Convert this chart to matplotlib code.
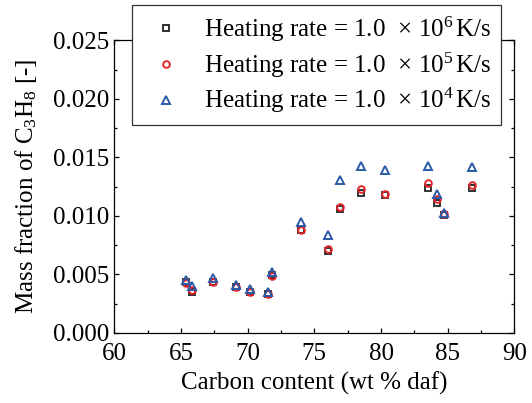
import numpy as np
import matplotlib
matplotlib.use("Agg")
import matplotlib.pyplot as plt
from matplotlib.ticker import MultipleLocator, FormatStrFormatter

plt.rcParams['font.family'] = 'serif'
plt.rcParams['font.serif'] = ['Liberation Serif', 'DejaVu Serif']
plt.rcParams['mathtext.fontset'] = 'custom'
plt.rcParams['mathtext.rm'] = 'Liberation Serif'
plt.rcParams['mathtext.it'] = 'Liberation Serif:italic'

# Данные
carbon = [65.4, 65.8, 67.4, 69.1, 70.2, 71.5, 71.8, 74.0, 76.0, 76.9,
          78.5, 80.3, 83.5, 84.2, 84.7, 86.8]
c3h8_1e6 = [0.0043, 0.0035, 0.0043, 0.0039, 0.0035, 0.0033, 0.0049, 0.0088,
            0.0070, 0.01055, 0.01192, 0.0118, 0.01235, 0.01112, 0.0101, 0.01235]
c3h8_1e5 = [0.00428, 0.00366, 0.00431, 0.00389, 0.00351, 0.00329, 0.00488, 0.00879,
            0.00714, 0.01078, 0.01226, 0.01184, 0.01278, 0.01141, 0.01015, 0.01263]
c3h8_1e4 = [0.00451, 0.0040, 0.00471, 0.00408, 0.00372, 0.00346, 0.00522, 0.0095,
            0.00836, 0.01306, 0.01426, 0.01392, 0.01426, 0.01184, 0.01021, 0.0142]

labels = [r"Heating rate = 1.0 $\,\times\,$10$^{6}\,$K/s",
          r"Heating rate = 1.0 $\,\times\,$10$^{5}\,$K/s",
          r"Heating rate = 1.0 $\,\times\,$10$^{4}\,$K/s"]

fig = plt.figure(figsize=(5.32, 4.03), dpi=100)
ax = fig.add_axes([0.2149, 0.1742, 0.7519, 0.7258])

ax.plot(carbon, c3h8_1e6, 's', ms=4.2, mfc='none', mec='#222222', mew=1.3, label=labels[0])
ax.plot(carbon, c3h8_1e5, 'o', ms=4.8, mfc='none', mec='#e8262a', mew=1.4, label=labels[1])
ax.plot(carbon, c3h8_1e4, '^', ms=5.2, mfc='none', mec='#2a5aa8', mew=1.4, label=labels[2])

ax.set_xlim(60, 90)
ax.set_ylim(0, 0.025)
ax.xaxis.set_major_locator(MultipleLocator(5))
ax.xaxis.set_minor_locator(MultipleLocator(2.5))
ax.yaxis.set_major_locator(MultipleLocator(0.005))
ax.yaxis.set_minor_locator(MultipleLocator(0.0025))
ax.yaxis.set_major_formatter(FormatStrFormatter('%.3f'))
ax.tick_params(which='both', direction='in', top=True, right=True, labelsize=18, width=0.9)
ax.tick_params(which='major', length=3.8)
ax.tick_params(which='minor', length=2.4)
ax.tick_params(axis='x', which='both', pad=7)
for s in ax.spines.values():
    s.set_linewidth(0.9)

ax.set_xlabel("Carbon content (wt % daf)", fontsize=18, labelpad=5)
ax.set_ylabel(r"Mass fraction of C$_{3}$H$_{8}$ [-]", fontsize=18, labelpad=10)

leg = ax.legend(loc='upper left', bbox_to_anchor=(131.7 / 532, 1 - 5 / 403),
                bbox_transform=fig.transFigure, fontsize=18, frameon=True,
                fancybox=False, borderaxespad=0, handletextpad=0.5,
                labelspacing=0.26, borderpad=0.38)
leg.get_frame().set_edgecolor('#333333')
leg.get_frame().set_linewidth(0.9)
leg.get_frame().set_alpha(1)

plt.savefig("out.png", dpi=100)
